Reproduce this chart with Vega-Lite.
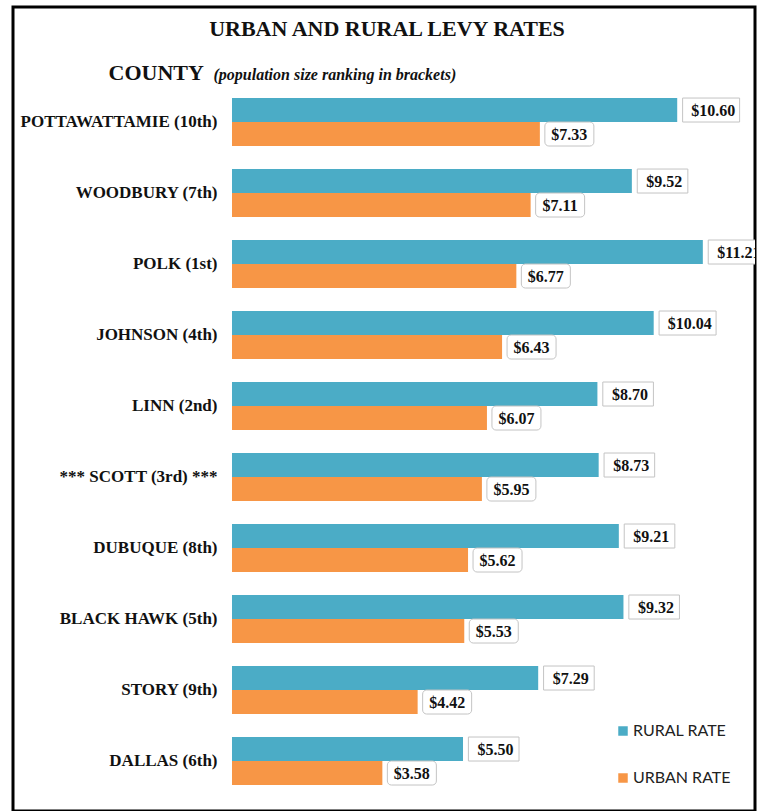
{
  "$schema": "https://vega.github.io/schema/vega-lite/v6.json",
  "width": 742,
  "height": 804,
  "autosize": {"type": "none"},
  "padding": {"left": 13, "top": 7, "right": 5, "bottom": 0},
  "background": "white",
  "config": {"view": {"stroke": "#000000", "strokeWidth": 3}},
  "title": {
    "text": "URBAN AND RURAL LEVY RATES",
    "font": "Liberation Serif",
    "fontSize": 22,
    "fontWeight": "bold",
    "color": "#111111",
    "anchor": "middle",
    "frame": "group",
    "baseline": "alphabetic",
    "offset": -28,
    "dx": 3,
    "dy": 23
  },
  "data": {
    "values": [
      {"county": "POTTAWATTAMIE (10th)", "type": "RURAL RATE", "value": 10.60},
      {"county": "POTTAWATTAMIE (10th)", "type": "URBAN RATE", "value": 7.33},
      {"county": "WOODBURY (7th)", "type": "RURAL RATE", "value": 9.52},
      {"county": "WOODBURY (7th)", "type": "URBAN RATE", "value": 7.11},
      {"county": "POLK (1st)", "type": "RURAL RATE", "value": 11.21},
      {"county": "POLK (1st)", "type": "URBAN RATE", "value": 6.77},
      {"county": "JOHNSON (4th)", "type": "RURAL RATE", "value": 10.04},
      {"county": "JOHNSON (4th)", "type": "URBAN RATE", "value": 6.43},
      {"county": "LINN (2nd)", "type": "RURAL RATE", "value": 8.70},
      {"county": "LINN (2nd)", "type": "URBAN RATE", "value": 6.07},
      {"county": "*** SCOTT (3rd) ***", "type": "RURAL RATE", "value": 8.73},
      {"county": "*** SCOTT (3rd) ***", "type": "URBAN RATE", "value": 5.95},
      {"county": "DUBUQUE (8th)", "type": "RURAL RATE", "value": 9.21},
      {"county": "DUBUQUE (8th)", "type": "URBAN RATE", "value": 5.62},
      {"county": "BLACK HAWK (5th)", "type": "RURAL RATE", "value": 9.32},
      {"county": "BLACK HAWK (5th)", "type": "URBAN RATE", "value": 5.53},
      {"county": "STORY (9th)", "type": "RURAL RATE", "value": 7.29},
      {"county": "STORY (9th)", "type": "URBAN RATE", "value": 4.42},
      {"county": "DALLAS (6th)", "type": "RURAL RATE", "value": 5.50},
      {"county": "DALLAS (6th)", "type": "URBAN RATE", "value": 3.58}
    ]
  },
  "encoding": {
    "y": {
      "field": "county",
      "type": "nominal",
      "sort": ["POTTAWATTAMIE (10th)", "WOODBURY (7th)", "POLK (1st)", "JOHNSON (4th)", "LINN (2nd)", "*** SCOTT (3rd) ***", "DUBUQUE (8th)", "BLACK HAWK (5th)", "STORY (9th)", "DALLAS (6th)"],
      "scale": {"paddingInner": 0.324, "paddingOuter": 0.824, "align": 0.778},
      "axis": {
        "orient": "left",
        "offset": -219,
        "domain": false,
        "ticks": false,
        "tickSize": 0,
        "grid": false,
        "labelPadding": 15,
        "labelFont": "Liberation Serif",
        "labelFontSize": 17,
        "labelFontWeight": "bold",
        "labelColor": "#111111",
        "labelLimit": 400,
        "title": "COUNTY",
        "titleAngle": 0,
        "titleAlign": "left",
        "titleBaseline": "alphabetic",
        "titleX": -124,
        "titleY": 72,
        "titleFont": "Liberation Serif",
        "titleFontSize": 22,
        "titleFontWeight": "bold",
        "titleColor": "#111111"
      }
    },
    "yOffset": {
      "field": "type",
      "type": "nominal",
      "sort": ["RURAL RATE", "URBAN RATE"],
      "scale": {"paddingInner": 0, "paddingOuter": 0}
    }
  },
  "layer": [
    {
      "mark": {"type": "bar"},
      "encoding": {
        "x": {
          "field": "value",
          "type": "quantitative",
          "scale": {"domain": [-5.214, 12.452], "nice": false, "zero": false},
          "axis": {
            "orient": "top",
            "labels": false,
            "ticks": false,
            "tickSize": 0,
            "domain": false,
            "grid": false,
            "title": "(population size ranking in brackets)",
            "titleX": 200,
            "titleY": 72,
            "titleAlign": "left",
            "titleBaseline": "alphabetic",
            "titleFont": "Liberation Serif",
            "titleFontStyle": "italic",
            "titleFontWeight": "bold",
            "titleFontSize": 16,
            "titleColor": "#111111"
          }
        },
        "color": {
          "field": "type",
          "type": "nominal",
          "scale": {"domain": ["RURAL RATE", "URBAN RATE"], "range": ["#4BACC6", "#F79646"]},
          "legend": {
            "title": null,
            "orient": "none",
            "legendX": 602,
            "legendY": 716,
            "direction": "vertical",
            "symbolType": "square",
            "symbolSize": 90,
            "symbolStrokeWidth": 0,
            "labelFont": "Lato",
            "labelFontSize": 16,
            "labelColor": "#222222",
            "rowPadding": 31,
            "labelOffset": 2
          }
        }
      }
    },
    {
      "transform": [{"filter": "datum.type == 'RURAL RATE' && datum.value >= 10"}],
      "mark": {"type": "rect", "fill": "white", "stroke": "#c4c4c4", "strokeWidth": 1, "xOffset": 5.4, "x2Offset": 62.4, "clip": true},
      "encoding": {"x": {"field": "value", "type": "quantitative"}, "x2": {"field": "value"}}
    },
    {
      "transform": [{"filter": "datum.type == 'RURAL RATE' && datum.value < 10"}],
      "mark": {"type": "rect", "fill": "white", "stroke": "#c4c4c4", "strokeWidth": 1, "xOffset": 5.4, "x2Offset": 56, "clip": true},
      "encoding": {"x": {"field": "value", "type": "quantitative"}, "x2": {"field": "value"}}
    },
    {
      "transform": [{"filter": "datum.type == 'URBAN RATE'"}],
      "mark": {"type": "rect", "fill": "white", "stroke": "#c4c4c4", "strokeWidth": 1, "cornerRadius": 4, "xOffset": 5, "x2Offset": 54, "clip": true},
      "encoding": {"x": {"field": "value", "type": "quantitative"}, "x2": {"field": "value"}}
    },
    {
      "transform": [{"filter": "datum.type == 'RURAL RATE' && datum.value >= 10"}],
      "mark": {"type": "text", "align": "center", "baseline": "middle", "dx": 36, "dy": 1, "font": "Liberation Serif", "fontSize": 16, "fontWeight": "bold", "color": "#111111", "clip": true},
      "encoding": {"x": {"field": "value", "type": "quantitative"}, "text": {"field": "value", "type": "quantitative", "format": "$.2f"}}
    },
    {
      "transform": [{"filter": "datum.type == 'RURAL RATE' && datum.value < 10"}],
      "mark": {"type": "text", "align": "center", "baseline": "middle", "dx": 32.5, "dy": 1, "font": "Liberation Serif", "fontSize": 16, "fontWeight": "bold", "color": "#111111", "clip": true},
      "encoding": {"x": {"field": "value", "type": "quantitative"}, "text": {"field": "value", "type": "quantitative", "format": "$.2f"}}
    },
    {
      "transform": [{"filter": "datum.type == 'URBAN RATE'"}],
      "mark": {"type": "text", "align": "center", "baseline": "middle", "dx": 29.5, "dy": 1, "font": "Liberation Serif", "fontSize": 16, "fontWeight": "bold", "color": "#111111", "clip": true},
      "encoding": {"x": {"field": "value", "type": "quantitative"}, "text": {"field": "value", "type": "quantitative", "format": "$.2f"}}
    }
  ]
}
